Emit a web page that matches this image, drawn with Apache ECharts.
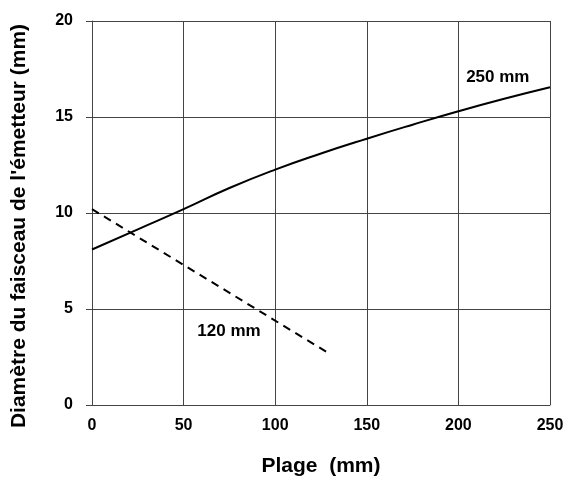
<!DOCTYPE html>
<html style="height: 100%">
    <head>
        <meta charset="utf-8">
    </head>
    <body style="height: 100%; margin: 0; background: #fff">
        <div id="container" style="height: 100%"></div>
        <script type="text/javascript" src="https://cdn.jsdelivr.net/npm/echarts@6/dist/echarts.min.js"></script>
        <script type="text/javascript">
// 250 mm beam (solid)
var plage250 = [0, 25, 50, 75, 100, 125, 150, 175, 200, 225, 250];
var diam250 = [8.1, 9.15, 10.2, 11.3, 12.26, 13.1, 13.87, 14.6, 15.3, 15.95, 16.55];
// 120 mm beam (dashed)
var plage120 = [0, 130];
var diam120 = [10.2, 2.65];
var xTicks = [0, 50, 100, 150, 200, 250];
var yTicks = [0, 5, 10, 15, 20];

var font = 'Liberation Sans';

function pairs(xs, ys) {
    var out = [];
    for (var i = 0; i < xs.length; i++) {
        out.push([xs[i], ys[i]]);
    }
    return out;
}

// text label sitting at a data position
function tag(text, x, y) {
    return {
        symbol: 'circle',
        symbolSize: 1,
        itemStyle: {color: 'rgba(0,0,0,0)'},
        data: [{coord: [x, y]}],
        label: {show: true, position: 'inside', formatter: text,
            fontFamily: font, fontWeight: 'bold', fontSize: 17, color: '#000'}
    };
}

var dom = document.getElementById("container");
var myChart = echarts.init(dom);

var option = {
    animation: false,
    grid: {left: 92, right: 19, top: 21, bottom: 76},
    xAxis: {
        type: 'value',
        min: xTicks[0],
        max: xTicks[xTicks.length - 1],
        interval: 50,
        name: 'Plage  (mm)',
        nameLocation: 'middle',
        nameGap: 51,
        nameTextStyle: {fontFamily: font, fontWeight: 'bold', fontSize: 21, color: '#000'},
        axisLine: {lineStyle: {color: '#444', width: 1}},
        axisTick: {show: false},
        axisLabel: {fontFamily: font, fontWeight: 'bold', fontSize: 16, color: '#000', margin: 13},
        splitLine: {lineStyle: {color: '#444', width: 1}}
    },
    yAxis: {
        type: 'value',
        min: yTicks[0],
        max: yTicks[yTicks.length - 1],
        interval: 5,
        name: "Diamètre du faisceau de l'émetteur (mm)",
        nameLocation: 'middle',
        nameRotate: 90,
        nameGap: 62,
        nameTextStyle: {fontFamily: font, fontWeight: 'bold', fontSize: 21, color: '#000',
            padding: [0, 26, 0, 0]},
        axisLine: {show: true, lineStyle: {color: '#444', width: 1}},
        axisTick: {show: true, length: 6, lineStyle: {color: '#444'}},
        axisLabel: {fontFamily: font, fontWeight: 'bold', fontSize: 16, color: '#000', margin: 19},
        splitLine: {lineStyle: {color: '#444', width: 1}}
    },
    series: [
        {
            name: '250 mm',
            type: 'line',
            smooth: true,
            showSymbol: false,
            data: pairs(plage250, diam250),
            lineStyle: {color: '#000', width: 2},
            markPoint: tag('250 mm', 221.5, 17.05)
        },
        {
            name: '120 mm',
            type: 'line',
            showSymbol: false,
            data: pairs(plage120, diam120),
            lineStyle: {color: '#000', width: 2, type: [8, 6]},
            markPoint: tag('120 mm', 74.8, 3.84)
        }
    ]
};

myChart.setOption(option);
        </script>
    </body>
</html>
